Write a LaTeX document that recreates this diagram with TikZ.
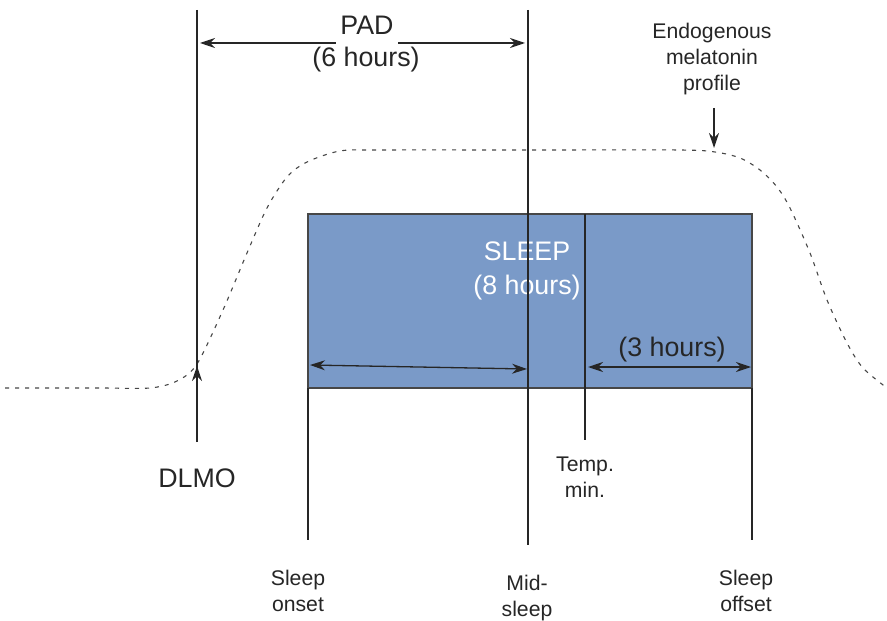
\documentclass[tikz,border=0pt]{standalone}
\usepackage{fontspec}
\setmainfont{Liberation Sans}
\usetikzlibrary{arrows.meta}
\definecolor{sleepblue}{RGB}{122,154,200}
\definecolor{ink}{RGB}{38,38,38}
\begin{document}
\begin{tikzpicture}[x=0.5pt,y=-0.5pt,line width=0.65pt,color=ink,
    big/.style={font=\fontsize{13.4}{17}\selectfont, inner sep=0pt, align=center},
    small/.style={font=\fontsize{10.6}{13}\selectfont, inner sep=0pt, align=center},
    tip/.style={-{Stealth[length=7.5pt,width=5pt]}},
    tips/.style={{Stealth[length=7.5pt,width=5pt]}-{Stealth[length=7.5pt,width=5pt]}}]
  \useasboundingbox (0,0) rectangle (887,620);
  % melatonin profile
  \draw[ink!85, dash pattern=on 2pt off 3pt, line width=0.55pt] plot[smooth] coordinates {(5,388) (100,388) (150,388) (177,381)
    (197,364) (223,310) (247,253) (267,208) (287,177) (307,162) (340,151) (380,150) (540,150) (680,150)
    (715,152) (740,158) (760,170) (777,187) (790,208) (810,253) (827,300) (847,343) (863,368) (887,388)};
  % sleep block
  \draw[fill=sleepblue, draw=ink!85] (308,214) coordinate (onsetTop) rectangle (752,388) coordinate (offsetBot);
  \node[big, text=white] (sleep) at (527,271) {SLEEP\\(8 hours)};
  \coordinate (dlmoTop) at (197,10);   \coordinate (dlmoBot) at (197,442);  \coordinate (dlmoHit) at (197,366);
  \coordinate (midTop) at (528,10);    \coordinate (midBot) at (528,545);
  \coordinate (tempTop) at (585,214);  \coordinate (tempBot) at (585,440);
  \draw (dlmoTop) -- (dlmoBot);
  \draw (midTop) -- (midBot);
  \draw (tempTop) -- (tempBot);
  \foreach \x in {308,752}
    \draw (\x,388) -- (\x,540);
  \draw[tip] (dlmoBot) -- (dlmoHit);
  % PAD
  \node[big, inner xsep=2pt] (pad) at (367,25) {PAD};
  \node[big] (padhours) at (366,60) {(6 hours)};
  \coordinate (padL) at (200,43); \coordinate (padR) at (525,43);
  \draw[tip] (pad.west |- padL) -- (padL);
  \draw[tip] (pad.east |- padR) -- (padR);
  % arrows in the block
  \coordinate (onsetArr) at (310,365); \coordinate (midArr) at (527,369);
  \draw[tips] (onsetArr) -- (midArr);
  \coordinate (tempArr) at (588,367); \coordinate (offsetArr) at (751,367);
  \draw[tips] (tempArr) -- (offsetArr);
  \node[big] (three) at (672,350) {(3 hours)};
  % labels
  \node[small] (endo) at (712,59) {Endogenous\\melatonin\\profile};
  \coordinate (endoTip) at (714,148);
  \draw[tip] (714,108) -- (endoTip);
  \node[big] (dlmo) at (197,478) {DLMO};
  \node[small] (temp) at (585,477) {Temp.\\min.};
  \node[small] (onset) at (298,591) {Sleep\\onset};
  \node[small] (mid) at (527,598) {Mid-\\sleep};
  \node[small] (offset) at (746,591) {Sleep\\offset};
\end{tikzpicture}
\end{document}
